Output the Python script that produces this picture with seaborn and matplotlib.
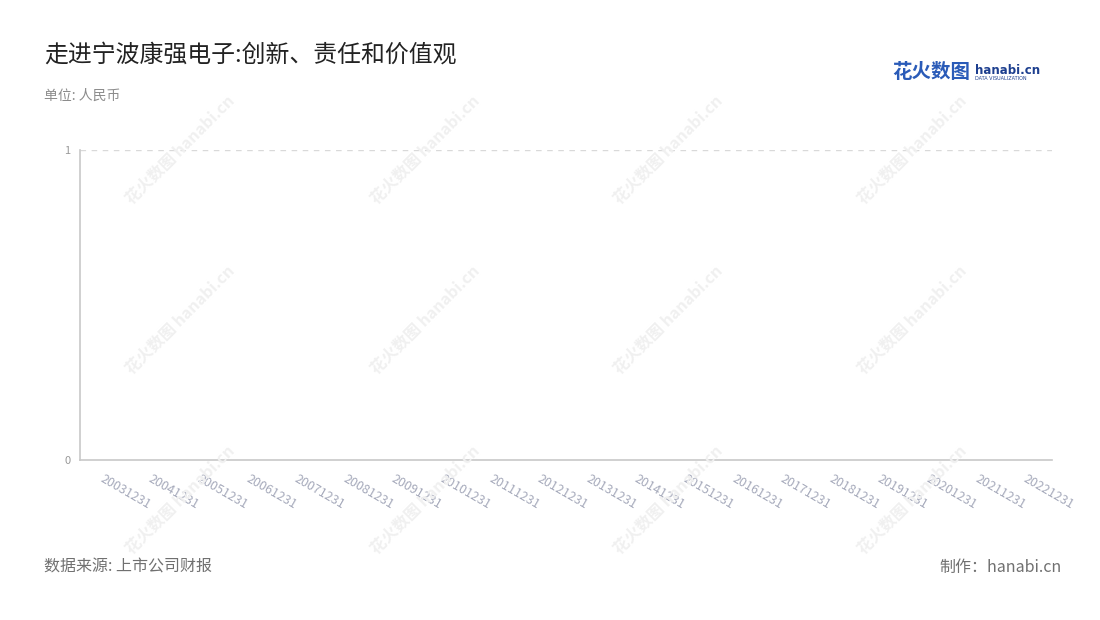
import numpy as np
import pandas as pd
import matplotlib
matplotlib.use('Agg')
import matplotlib.pyplot as plt
import seaborn as sns

# 数据：报告期（没有数值，图表为空）
periods = ['20031231', '20041231', '20051231', '20061231', '20071231',
           '20081231', '20091231', '20101231', '20111231', '20121231',
           '20131231', '20141231', '20151231', '20161231', '20171231',
           '20181231', '20191231', '20201231', '20211231', '20221231']
values = [0] * len(periods)
y_ticks = [0, 1]

df = pd.DataFrame({'period': periods, 'value': values})

sns.set_theme(style='white')
plt.rcParams['font.family'] = ['Noto Sans CJK SC', 'DejaVu Sans']

fig = plt.figure(figsize=(11, 6.2), dpi=100)
ax = fig.add_axes([80 / 1100, 1 - 460 / 620, 972 / 1100, 310 / 620])

sns.barplot(data=df, x='period', y='value', ax=ax, color='#5b8ff9')

ax.set_xlim(-0.5, len(periods) - 0.5)
ax.set_ylim(0, 1)
ax.set_yticks(y_ticks)
ax.set_yticklabels([str(t) for t in y_ticks])
ax.set_xlabel('')
ax.set_ylabel('')

for s in ['top', 'right']:
    ax.spines[s].set_visible(False)
for s in ['left', 'bottom']:
    ax.spines[s].set_color('#c8c8c8')
    ax.spines[s].set_linewidth(1.2)

ax.axhline(1, color='#d9d9d9', linestyle=(0, (4, 4)), linewidth=1)

ax.tick_params(axis='y', length=5, color='#c8c8c8', labelsize=8, labelcolor='#999999', pad=2)
ax.tick_params(axis='x', length=5, color='#c8c8c8', labelsize=9, labelcolor='#a6aabb', pad=4)
plt.setp(ax.get_xticklabels(), rotation=-30, ha='left', va='top', rotation_mode='anchor')

# 水印
for wx in [180, 425, 668, 912]:
    for wy in [150, 320, 500]:
        fig.text(wx / 1100, 1 - wy / 620, '花火数图 hanabi.cn', rotation=45,
                 ha='center', va='center', fontsize=11.5, color='#f0f0f0',
                 fontweight='bold', zorder=0)

# 标题与说明
fig.text(44 / 1100, 1 - 55 / 620, '走进宁波康强电子:创新、责任和价值观',
         fontsize=17.2, color='#222222', va='center', ha='left')
fig.text(44 / 1100, 1 - 96 / 620, '单位: 人民币',
         fontsize=10, color='#8c8c8c', va='center', ha='left')
fig.text(44 / 1100, 1 - 567 / 620, '数据来源: 上市公司财报',
         fontsize=11.5, color='#707070', va='center', ha='left')
fig.text(1062 / 1100, 1 - 567 / 620, '制作：hanabi.cn',
         fontsize=11.5, color='#707070', va='center', ha='right')

# 标识
fig.text(892 / 1100, 1 - 73 / 620, '花火数图', fontsize=14, color='#2a5bb8',
         fontweight='bold', va='center', ha='left')
fig.text(975 / 1100, 1 - 70 / 620, 'hanabi.cn', fontsize=8.5, color='#1d3f8f',
         fontweight='bold', va='center', ha='left', family=['DejaVu Sans'])
fig.text(975 / 1100, 1 - 79 / 620, 'DATA VISUALIZATION', fontsize=3.5, color='#1d3f8f',
         va='center', ha='left', family=['DejaVu Sans'])

fig.savefig('out.png', dpi=100)
